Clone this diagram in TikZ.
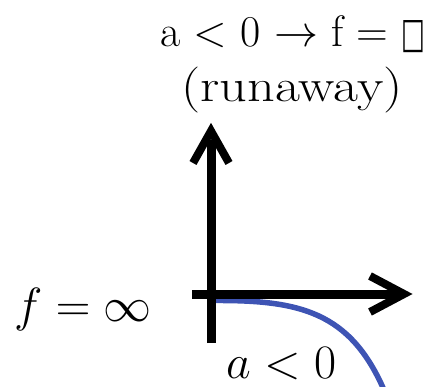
\RequirePackage{fix-cm}
\documentclass[tikz,border=0pt]{standalone}
\usepackage{fontspec}
\usepackage{graphicx}
\newfontfamily\symfont{DejaVu Sans}
\definecolor{curveblue}{RGB}{62,84,180}
\begin{document}
\begin{tikzpicture}[x=1pt,y=-1pt,
  axisline/.style={line width=9pt},
  chevron/.style={line width=8pt,line join=miter,miter limit=10},
  toptext/.style={inner sep=0pt,anchor=base,font=\fontsize{44}{50}\selectfont},
  mathlabel/.style={inner sep=0pt,anchor=base west,font=\fontsize{48}{55}\selectfont}]
\useasboundingbox (0,0) rectangle (428,387);
\coordinate (o) at (211,294);
\coordinate (ytip) at (211,131);
\coordinate (ybot) at (211,343);
\coordinate (xtip) at (404,294);
\coordinate (xleft) at (192,294);
% curve
\draw[curveblue,line width=5.5pt] (214,300.5) .. controls (300,300) and (350,312) .. (384,390);
% axes
\draw[axisline] (ybot) -- (211,140);
\draw[axisline] (xleft) -- (396,294);
\draw[chevron] (193,163) -- (ytip) -- (229,163);
\draw[chevron] (370,276) -- (xtip) -- (370,312);
% texts
\node[toptext] (t1) at (293,47) {a < 0 $\rightarrow$ f = \raisebox{-1pt}{\scalebox{0.6}[1]{\symfont\fontsize{42}{44}\selectfont □}}};
\node[toptext,xscale=1.18,font=\fontsize{46}{50}\selectfont] (t2) at (292,102) {(runaway)};
\node[mathlabel] (fl) at (14,321) {$f=\infty$};
\node[mathlabel] (al) at (226,378) {$a<0$};
\end{tikzpicture}
\end{document}
